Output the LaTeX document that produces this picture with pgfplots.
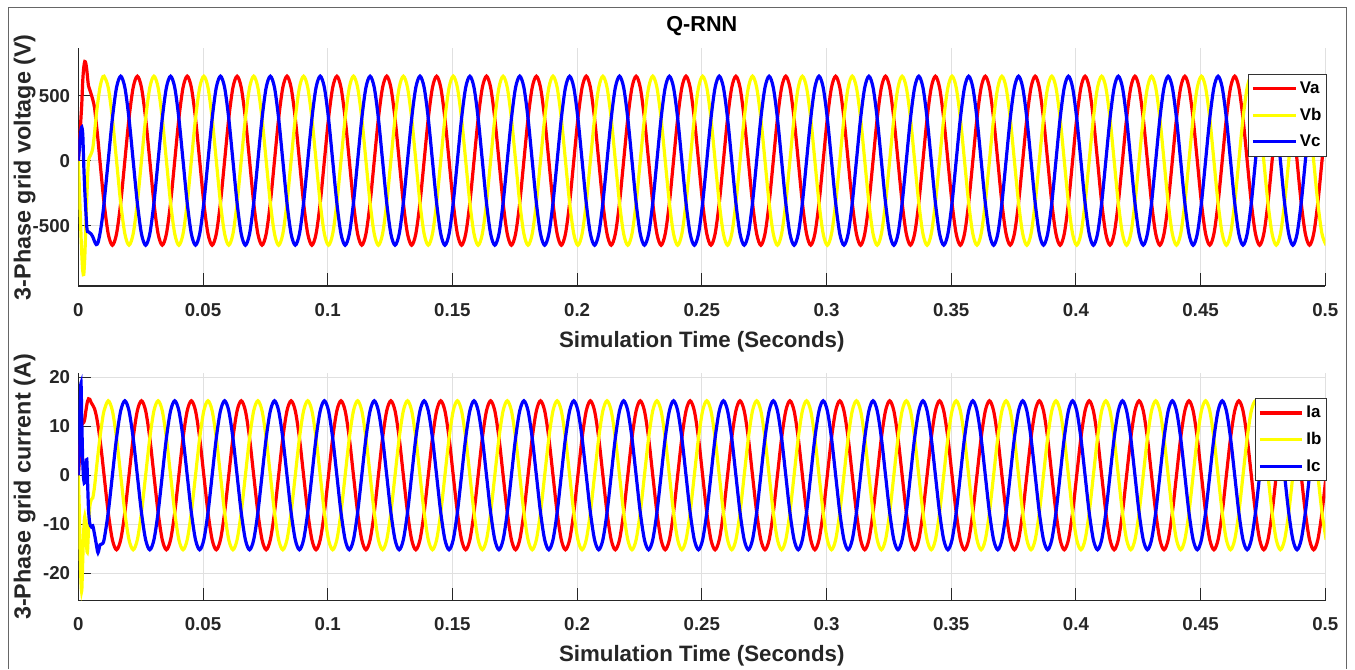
\documentclass[border=0pt]{standalone}
\usepackage{fontspec}
\setmainfont{Liberation Sans}
\usepackage{pgfplots}
\usepackage{pgfplotstable}
\pgfplotsset{compat=1.18}
\definecolor{myred}{RGB}{255,0,0}
\definecolor{myyellow}{RGB}{255,255,0}
\definecolor{myblue}{RGB}{0,0,255}

\pgfplotstableread{
t Va Vb Vc Ia Ib Ic
0 0 0 0 0 0 0
0.0004 110 -200 90 3 -7 6
0.0008 240 -420 180 7 -17 15
0.0011 340 -580 240 9.5 -22 18.8
0.0014 440 -720 258 10.3 -23.5 11
0.0018 620 -850 200 10.6 -17 2.5
0.0022 720 -875 -40 10.8 -11 -1
0.0026 763 -740 -230 11.5 -8.4 -1.5
0.0030 750 -520 -380 13 -11 1.5
0.0034 700 -300 -510 14.3 -15 3.2
0.0037 640 -140 -545 15.1 -15.5 -1
0.0041 575 0 -548 15.6 -11 -7
0.0046 545 30 -555 15.5 -6.5 -9.8
0.0052 510 55 -565 14.8 -5 -10.5
0.0058 470 95 -585 14.3 -4.6 -10.3
0.0065 410 210 -620 13.6 -2.4 -12
0.0072 290 350 -645 12.2 1.0 -14
0.0079 160 460 -630 10.2 4.3 -15.8
0.0087 -7 566 -560 7.3 7.76 -14.2
0.0095 -168 628 -460 3.9 10.75 -14
0.01033 -325 650 -325 0 13.16 -13.16
0.01200 -563 563 0 -7.6 15.2 -7.6
0.01367 -650 325 325 -13.16 13.16 0
0.01533 -563 0 563 -15.2 7.6 7.6
0.01700 -325 -325 650 -13.16 0 13.16
0.01867 0 -563 563 -7.6 -7.6 15.2
0.02033 325 -650 325 0 -13.16 13.16
0.02200 563 -563 0 7.6 -15.2 7.6
0.02367 650 -325 -325 13.16 -13.16 0
0.02533 563 0 -563 15.2 -7.6 -7.6
0.02700 325 325 -650 13.16 0 -13.16
0.02867 0 563 -563 7.6 7.6 -15.2
0.03033 -325 650 -325 0 13.16 -13.16
0.03200 -563 563 0 -7.6 15.2 -7.6
0.03367 -650 325 325 -13.16 13.16 0
0.03533 -563 0 563 -15.2 7.6 7.6
0.03700 -325 -325 650 -13.16 0 13.16
0.03867 0 -563 563 -7.6 -7.6 15.2
0.04033 325 -650 325 0 -13.16 13.16
0.04200 563 -563 0 7.6 -15.2 7.6
0.04367 650 -325 -325 13.16 -13.16 0
0.04533 563 0 -563 15.2 -7.6 -7.6
0.04700 325 325 -650 13.16 0 -13.16
0.04867 0 563 -563 7.6 7.6 -15.2
0.05033 -325 650 -325 0 13.16 -13.16
0.05200 -563 563 0 -7.6 15.2 -7.6
0.05367 -650 325 325 -13.16 13.16 0
0.05533 -563 0 563 -15.2 7.6 7.6
0.05700 -325 -325 650 -13.16 0 13.16
0.05867 0 -563 563 -7.6 -7.6 15.2
0.06033 325 -650 325 0 -13.16 13.16
0.06200 563 -563 0 7.6 -15.2 7.6
0.06367 650 -325 -325 13.16 -13.16 0
0.06533 563 0 -563 15.2 -7.6 -7.6
0.06700 325 325 -650 13.16 0 -13.16
0.06867 0 563 -563 7.6 7.6 -15.2
0.07033 -325 650 -325 0 13.16 -13.16
0.07200 -563 563 0 -7.6 15.2 -7.6
0.07367 -650 325 325 -13.16 13.16 0
0.07533 -563 0 563 -15.2 7.6 7.6
0.07700 -325 -325 650 -13.16 0 13.16
0.07867 0 -563 563 -7.6 -7.6 15.2
0.08033 325 -650 325 0 -13.16 13.16
0.08200 563 -563 0 7.6 -15.2 7.6
0.08367 650 -325 -325 13.16 -13.16 0
0.08533 563 0 -563 15.2 -7.6 -7.6
0.08700 325 325 -650 13.16 0 -13.16
0.08867 0 563 -563 7.6 7.6 -15.2
0.09033 -325 650 -325 0 13.16 -13.16
0.09200 -563 563 0 -7.6 15.2 -7.6
0.09367 -650 325 325 -13.16 13.16 0
0.09533 -563 0 563 -15.2 7.6 7.6
0.09700 -325 -325 650 -13.16 0 13.16
0.09867 0 -563 563 -7.6 -7.6 15.2
0.10033 325 -650 325 0 -13.16 13.16
0.10200 563 -563 0 7.6 -15.2 7.6
0.10367 650 -325 -325 13.16 -13.16 0
0.10533 563 0 -563 15.2 -7.6 -7.6
0.10700 325 325 -650 13.16 0 -13.16
0.10867 0 563 -563 7.6 7.6 -15.2
0.11033 -325 650 -325 0 13.16 -13.16
0.11200 -563 563 0 -7.6 15.2 -7.6
0.11367 -650 325 325 -13.16 13.16 0
0.11533 -563 0 563 -15.2 7.6 7.6
0.11700 -325 -325 650 -13.16 0 13.16
0.11867 0 -563 563 -7.6 -7.6 15.2
0.12033 325 -650 325 0 -13.16 13.16
0.12200 563 -563 0 7.6 -15.2 7.6
0.12367 650 -325 -325 13.16 -13.16 0
0.12533 563 0 -563 15.2 -7.6 -7.6
0.12700 325 325 -650 13.16 0 -13.16
0.12867 0 563 -563 7.6 7.6 -15.2
0.13033 -325 650 -325 0 13.16 -13.16
0.13200 -563 563 0 -7.6 15.2 -7.6
0.13367 -650 325 325 -13.16 13.16 0
0.13533 -563 0 563 -15.2 7.6 7.6
0.13700 -325 -325 650 -13.16 0 13.16
0.13867 0 -563 563 -7.6 -7.6 15.2
0.14033 325 -650 325 0 -13.16 13.16
0.14200 563 -563 0 7.6 -15.2 7.6
0.14367 650 -325 -325 13.16 -13.16 0
0.14533 563 0 -563 15.2 -7.6 -7.6
0.14700 325 325 -650 13.16 0 -13.16
0.14867 0 563 -563 7.6 7.6 -15.2
0.15033 -325 650 -325 0 13.16 -13.16
0.15200 -563 563 0 -7.6 15.2 -7.6
0.15367 -650 325 325 -13.16 13.16 0
0.15533 -563 0 563 -15.2 7.6 7.6
0.15700 -325 -325 650 -13.16 0 13.16
0.15867 0 -563 563 -7.6 -7.6 15.2
0.16033 325 -650 325 0 -13.16 13.16
0.16200 563 -563 0 7.6 -15.2 7.6
0.16367 650 -325 -325 13.16 -13.16 0
0.16533 563 0 -563 15.2 -7.6 -7.6
0.16700 325 325 -650 13.16 0 -13.16
0.16867 0 563 -563 7.6 7.6 -15.2
0.17033 -325 650 -325 0 13.16 -13.16
0.17200 -563 563 0 -7.6 15.2 -7.6
0.17367 -650 325 325 -13.16 13.16 0
0.17533 -563 0 563 -15.2 7.6 7.6
0.17700 -325 -325 650 -13.16 0 13.16
0.17867 0 -563 563 -7.6 -7.6 15.2
0.18033 325 -650 325 0 -13.16 13.16
0.18200 563 -563 0 7.6 -15.2 7.6
0.18367 650 -325 -325 13.16 -13.16 0
0.18533 563 0 -563 15.2 -7.6 -7.6
0.18700 325 325 -650 13.16 0 -13.16
0.18867 0 563 -563 7.6 7.6 -15.2
0.19033 -325 650 -325 0 13.16 -13.16
0.19200 -563 563 0 -7.6 15.2 -7.6
0.19367 -650 325 325 -13.16 13.16 0
0.19533 -563 0 563 -15.2 7.6 7.6
0.19700 -325 -325 650 -13.16 0 13.16
0.19867 0 -563 563 -7.6 -7.6 15.2
0.20033 325 -650 325 0 -13.16 13.16
0.20200 563 -563 0 7.6 -15.2 7.6
0.20367 650 -325 -325 13.16 -13.16 0
0.20533 563 0 -563 15.2 -7.6 -7.6
0.20700 325 325 -650 13.16 0 -13.16
0.20867 0 563 -563 7.6 7.6 -15.2
0.21033 -325 650 -325 0 13.16 -13.16
0.21200 -563 563 0 -7.6 15.2 -7.6
0.21367 -650 325 325 -13.16 13.16 0
0.21533 -563 0 563 -15.2 7.6 7.6
0.21700 -325 -325 650 -13.16 0 13.16
0.21867 0 -563 563 -7.6 -7.6 15.2
0.22033 325 -650 325 0 -13.16 13.16
0.22200 563 -563 0 7.6 -15.2 7.6
0.22367 650 -325 -325 13.16 -13.16 0
0.22533 563 0 -563 15.2 -7.6 -7.6
0.22700 325 325 -650 13.16 0 -13.16
0.22867 0 563 -563 7.6 7.6 -15.2
0.23033 -325 650 -325 0 13.16 -13.16
0.23200 -563 563 0 -7.6 15.2 -7.6
0.23367 -650 325 325 -13.16 13.16 0
0.23533 -563 0 563 -15.2 7.6 7.6
0.23700 -325 -325 650 -13.16 0 13.16
0.23867 0 -563 563 -7.6 -7.6 15.2
0.24033 325 -650 325 0 -13.16 13.16
0.24200 563 -563 0 7.6 -15.2 7.6
0.24367 650 -325 -325 13.16 -13.16 0
0.24533 563 0 -563 15.2 -7.6 -7.6
0.24700 325 325 -650 13.16 0 -13.16
0.24867 0 563 -563 7.6 7.6 -15.2
0.25033 -325 650 -325 0 13.16 -13.16
0.25200 -563 563 0 -7.6 15.2 -7.6
0.25367 -650 325 325 -13.16 13.16 0
0.25533 -563 0 563 -15.2 7.6 7.6
0.25700 -325 -325 650 -13.16 0 13.16
0.25867 0 -563 563 -7.6 -7.6 15.2
0.26033 325 -650 325 0 -13.16 13.16
0.26200 563 -563 0 7.6 -15.2 7.6
0.26367 650 -325 -325 13.16 -13.16 0
0.26533 563 0 -563 15.2 -7.6 -7.6
0.26700 325 325 -650 13.16 0 -13.16
0.26867 0 563 -563 7.6 7.6 -15.2
0.27033 -325 650 -325 0 13.16 -13.16
0.27200 -563 563 0 -7.6 15.2 -7.6
0.27367 -650 325 325 -13.16 13.16 0
0.27533 -563 0 563 -15.2 7.6 7.6
0.27700 -325 -325 650 -13.16 0 13.16
0.27867 0 -563 563 -7.6 -7.6 15.2
0.28033 325 -650 325 0 -13.16 13.16
0.28200 563 -563 0 7.6 -15.2 7.6
0.28367 650 -325 -325 13.16 -13.16 0
0.28533 563 0 -563 15.2 -7.6 -7.6
0.28700 325 325 -650 13.16 0 -13.16
0.28867 0 563 -563 7.6 7.6 -15.2
0.29033 -325 650 -325 0 13.16 -13.16
0.29200 -563 563 0 -7.6 15.2 -7.6
0.29367 -650 325 325 -13.16 13.16 0
0.29533 -563 0 563 -15.2 7.6 7.6
0.29700 -325 -325 650 -13.16 0 13.16
0.29867 0 -563 563 -7.6 -7.6 15.2
0.30033 325 -650 325 0 -13.16 13.16
0.30200 563 -563 0 7.6 -15.2 7.6
0.30367 650 -325 -325 13.16 -13.16 0
0.30533 563 0 -563 15.2 -7.6 -7.6
0.30700 325 325 -650 13.16 0 -13.16
0.30867 0 563 -563 7.6 7.6 -15.2
0.31033 -325 650 -325 0 13.16 -13.16
0.31200 -563 563 0 -7.6 15.2 -7.6
0.31367 -650 325 325 -13.16 13.16 0
0.31533 -563 0 563 -15.2 7.6 7.6
0.31700 -325 -325 650 -13.16 0 13.16
0.31867 0 -563 563 -7.6 -7.6 15.2
0.32033 325 -650 325 0 -13.16 13.16
0.32200 563 -563 0 7.6 -15.2 7.6
0.32367 650 -325 -325 13.16 -13.16 0
0.32533 563 0 -563 15.2 -7.6 -7.6
0.32700 325 325 -650 13.16 0 -13.16
0.32867 0 563 -563 7.6 7.6 -15.2
0.33033 -325 650 -325 0 13.16 -13.16
0.33200 -563 563 0 -7.6 15.2 -7.6
0.33367 -650 325 325 -13.16 13.16 0
0.33533 -563 0 563 -15.2 7.6 7.6
0.33700 -325 -325 650 -13.16 0 13.16
0.33867 0 -563 563 -7.6 -7.6 15.2
0.34033 325 -650 325 0 -13.16 13.16
0.34200 563 -563 0 7.6 -15.2 7.6
0.34367 650 -325 -325 13.16 -13.16 0
0.34533 563 0 -563 15.2 -7.6 -7.6
0.34700 325 325 -650 13.16 0 -13.16
0.34867 0 563 -563 7.6 7.6 -15.2
0.35033 -325 650 -325 0 13.16 -13.16
0.35200 -563 563 0 -7.6 15.2 -7.6
0.35367 -650 325 325 -13.16 13.16 0
0.35533 -563 0 563 -15.2 7.6 7.6
0.35700 -325 -325 650 -13.16 0 13.16
0.35867 0 -563 563 -7.6 -7.6 15.2
0.36033 325 -650 325 0 -13.16 13.16
0.36200 563 -563 0 7.6 -15.2 7.6
0.36367 650 -325 -325 13.16 -13.16 0
0.36533 563 0 -563 15.2 -7.6 -7.6
0.36700 325 325 -650 13.16 0 -13.16
0.36867 0 563 -563 7.6 7.6 -15.2
0.37033 -325 650 -325 0 13.16 -13.16
0.37200 -563 563 0 -7.6 15.2 -7.6
0.37367 -650 325 325 -13.16 13.16 0
0.37533 -563 0 563 -15.2 7.6 7.6
0.37700 -325 -325 650 -13.16 0 13.16
0.37867 0 -563 563 -7.6 -7.6 15.2
0.38033 325 -650 325 0 -13.16 13.16
0.38200 563 -563 0 7.6 -15.2 7.6
0.38367 650 -325 -325 13.16 -13.16 0
0.38533 563 0 -563 15.2 -7.6 -7.6
0.38700 325 325 -650 13.16 0 -13.16
0.38867 0 563 -563 7.6 7.6 -15.2
0.39033 -325 650 -325 0 13.16 -13.16
0.39200 -563 563 0 -7.6 15.2 -7.6
0.39367 -650 325 325 -13.16 13.16 0
0.39533 -563 0 563 -15.2 7.6 7.6
0.39700 -325 -325 650 -13.16 0 13.16
0.39867 0 -563 563 -7.6 -7.6 15.2
0.40033 325 -650 325 0 -13.16 13.16
0.40200 563 -563 0 7.6 -15.2 7.6
0.40367 650 -325 -325 13.16 -13.16 0
0.40533 563 0 -563 15.2 -7.6 -7.6
0.40700 325 325 -650 13.16 0 -13.16
0.40867 0 563 -563 7.6 7.6 -15.2
0.41033 -325 650 -325 0 13.16 -13.16
0.41200 -563 563 0 -7.6 15.2 -7.6
0.41367 -650 325 325 -13.16 13.16 0
0.41533 -563 0 563 -15.2 7.6 7.6
0.41700 -325 -325 650 -13.16 0 13.16
0.41867 0 -563 563 -7.6 -7.6 15.2
0.42033 325 -650 325 0 -13.16 13.16
0.42200 563 -563 0 7.6 -15.2 7.6
0.42367 650 -325 -325 13.16 -13.16 0
0.42533 563 0 -563 15.2 -7.6 -7.6
0.42700 325 325 -650 13.16 0 -13.16
0.42867 0 563 -563 7.6 7.6 -15.2
0.43033 -325 650 -325 0 13.16 -13.16
0.43200 -563 563 0 -7.6 15.2 -7.6
0.43367 -650 325 325 -13.16 13.16 0
0.43533 -563 0 563 -15.2 7.6 7.6
0.43700 -325 -325 650 -13.16 0 13.16
0.43867 0 -563 563 -7.6 -7.6 15.2
0.44033 325 -650 325 0 -13.16 13.16
0.44200 563 -563 0 7.6 -15.2 7.6
0.44367 650 -325 -325 13.16 -13.16 0
0.44533 563 0 -563 15.2 -7.6 -7.6
0.44700 325 325 -650 13.16 0 -13.16
0.44867 0 563 -563 7.6 7.6 -15.2
0.45033 -325 650 -325 0 13.16 -13.16
0.45200 -563 563 0 -7.6 15.2 -7.6
0.45367 -650 325 325 -13.16 13.16 0
0.45533 -563 0 563 -15.2 7.6 7.6
0.45700 -325 -325 650 -13.16 0 13.16
0.45867 0 -563 563 -7.6 -7.6 15.2
0.46033 325 -650 325 0 -13.16 13.16
0.46200 563 -563 0 7.6 -15.2 7.6
0.46367 650 -325 -325 13.16 -13.16 0
0.46533 563 0 -563 15.2 -7.6 -7.6
0.46700 325 325 -650 13.16 0 -13.16
0.46867 0 563 -563 7.6 7.6 -15.2
0.47033 -325 650 -325 0 13.16 -13.16
0.47200 -563 563 0 -7.6 15.2 -7.6
0.47367 -650 325 325 -13.16 13.16 0
0.47533 -563 0 563 -15.2 7.6 7.6
0.47700 -325 -325 650 -13.16 0 13.16
0.47867 0 -563 563 -7.6 -7.6 15.2
0.48033 325 -650 325 0 -13.16 13.16
0.48200 563 -563 0 7.6 -15.2 7.6
0.48367 650 -325 -325 13.16 -13.16 0
0.48533 563 0 -563 15.2 -7.6 -7.6
0.48700 325 325 -650 13.16 0 -13.16
0.48867 0 563 -563 7.6 7.6 -15.2
0.49033 -325 650 -325 0 13.16 -13.16
0.49200 -563 563 0 -7.6 15.2 -7.6
0.49367 -650 325 325 -13.16 13.16 0
0.49533 -563 0 563 -15.2 7.6 7.6
0.49700 -325 -325 650 -13.16 0 13.16
0.49867 0 -563 563 -7.6 -7.6 15.2
0.50033 325 -650 325 0 -13.16 13.16
}\data

\pgfplotsset{
  common/.style={
    scale only axis, width=935.25pt,
    xmin=0, xmax=0.5,
    axis x line*=bottom, axis y line*=left,
    axis line style={-, line width=0.9pt, black!85},
    tick align=inside, major tick length=9.75pt,
    tick style={line width=0.75pt, black!85},
    grid=major, major grid style={line width=0.75pt, black!12},
    xtick={0,0.05,0.1,0.15,0.2,0.25,0.3,0.35,0.4,0.45,0.5},
    xticklabels={0,0.05,0.1,0.15,0.2,0.25,0.3,0.35,0.4,0.45,0.5},
    scaled x ticks=false, scaled y ticks=false,
    tick label style={font=\fontsize{14}{16}\selectfont\bfseries, text=black!85},
    xticklabel style={anchor=base, yshift=-22.5pt},
    yticklabel style={anchor=east, inner sep=0pt, xshift=-6pt},
    xlabel={Simulation Time (Seconds)},
    xlabel style={at={(axis description cs:0.5,0)}, anchor=base, yshift=-45.75pt, font=\fontsize{16.7}{19}\selectfont\bfseries, text=black!85},
    ylabel style={at={(axis description cs:-0.043,0.5)}, anchor=center, font=\fontsize{17.5}{20}\selectfont\bfseries, text=black!85},
    legend cell align=left,
    legend style={anchor=north east, draw=black!80, line width=0.75pt, fill=white,
      font=\fontsize{12.7}{15}\selectfont\bfseries, inner xsep=2pt, inner ysep=3.5pt, row sep=5.5pt},
    legend image code/.code={\draw[#1] (0pt,0pt) -- (32pt,0pt);},
    every axis plot/.append style={line width=2.4pt, smooth},
  }
}

\begin{document}
\begin{tikzpicture}
\useasboundingbox (0,0) rectangle (1016.25pt,501.75pt);
\draw[black!60, line width=0.8pt] (6.2pt,0pt) -- (6.2pt,496.3pt) -- (1010pt,496.3pt) -- (1010pt,0pt);

\begin{axis}[common,
  at={(58.725pt,287.25pt)}, anchor=south west, height=178.3pt,
  ymin=-964, ymax=865,
  ytick={-500,0,500}, yticklabels={-500,0,500},
  ylabel={3-Phase grid voltage (V)},
  title={Q-RNN},
  title style={at={(axis description cs:0.5,1)}, anchor=base, yshift=6.75pt, font=\fontsize{16.2}{19}\selectfont\bfseries},
  legend style={at={(rel axis cs:1.0016,0.892)}},
]
\addplot[myred] table[x=t, y=Va] {\data};
\addplot[myyellow] table[x=t, y=Vb] {\data};
\addplot[myblue] table[x=t, y=Vc] {\data};
\legend{Va,Vb,Vc}
\end{axis}

\begin{axis}[common,
  at={(58.725pt,51.2pt)}, anchor=south west, height=170.55pt,
  ymin=-25.6, ymax=20.8,
  ytick={-20,-10,0,10,20}, yticklabels={-20,-10,0,10,20},
  ylabel={3-Phase grid current (A)},
  legend style={at={(rel axis cs:1.0016,0.890)}},
]
\addplot[myred] table[x=t, y=Ia] {\data};
\addplot[myyellow] table[x=t, y=Ib] {\data};
\addplot[myblue] table[x=t, y=Ic] {\data};
\legend{Ia,Ib,Ic}
\end{axis}
\end{tikzpicture}
\end{document}
